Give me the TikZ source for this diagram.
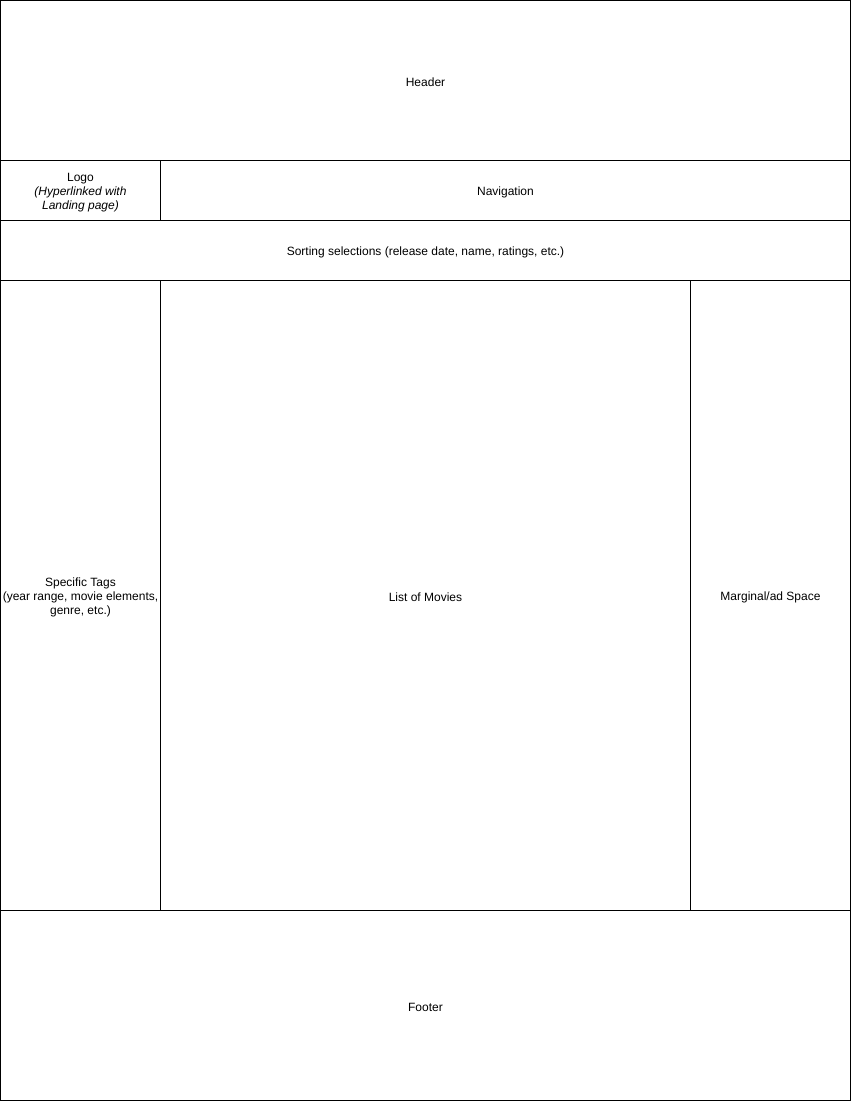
\documentclass[tikz,border=0pt]{standalone}
\usepackage{fontspec}
\setmainfont{Liberation Sans}

\tikzset{every picture/.style={line width=0.75pt}}
\tikzset{lbl/.style={anchor=center,inner sep=0.75pt,align=center,font=\fontsize{9}{10.5}\selectfont}}

\begin{document}
\begin{tikzpicture}[x=0.75pt,y=0.75pt,yscale=-1,xscale=1]
\useasboundingbox (-0.5,-0.5) rectangle (850.5,1100.5);

%Shape: Rectangle [id:header]
\draw   (0,0) -- (850,0) -- (850,160) -- (0,160) -- cycle ;
%Shape: Rectangle [id:logo]
\draw   (0,160) -- (160,160) -- (160,220) -- (0,220) -- cycle ;
%Shape: Rectangle [id:navigation]
\draw   (160,160) -- (850,160) -- (850,220) -- (160,220) -- cycle ;
%Shape: Rectangle [id:sorting]
\draw   (0,220) -- (850,220) -- (850,280) -- (0,280) -- cycle ;
%Shape: Rectangle [id:tags]
\draw   (0,280) -- (160,280) -- (160,910) -- (0,910) -- cycle ;
%Shape: Rectangle [id:movies]
\draw   (160,280) -- (690,280) -- (690,910) -- (160,910) -- cycle ;
%Shape: Rectangle [id:marginal]
\draw   (690,280) -- (850,280) -- (850,910) -- (690,910) -- cycle ;
%Shape: Rectangle [id:footer]
\draw   (0,910) -- (850,910) -- (850,1100) -- (0,1100) -- cycle ;

% Text Node
\draw (425,81.5) node [lbl] (header) {Header};
% Text Node
\draw (80,192) node [lbl] (logo) {Logo\\\textit{(Hyperlinked with}\\\textit{Landing page)}};
% Text Node
\draw (505,191.5) node [lbl] (navigation) {Navigation};
% Text Node
\draw (425,251.5) node [lbl] (sorting) {Sorting selections (release date, name, ratings, etc.)};
% Text Node
\draw (80,597) node [lbl] (tags) {Specific Tags\\(year range, movie elements,\\genre, etc.)};
% Text Node
\draw (425,596.5) node [lbl] (movies) {List of Movies};
% Text Node
\draw (770,596.5) node [lbl] (marginal) {Marginal/ad Space};
% Text Node
\draw (425,1006.5) node [lbl] (footer) {Footer};

\end{tikzpicture}
\end{document}
